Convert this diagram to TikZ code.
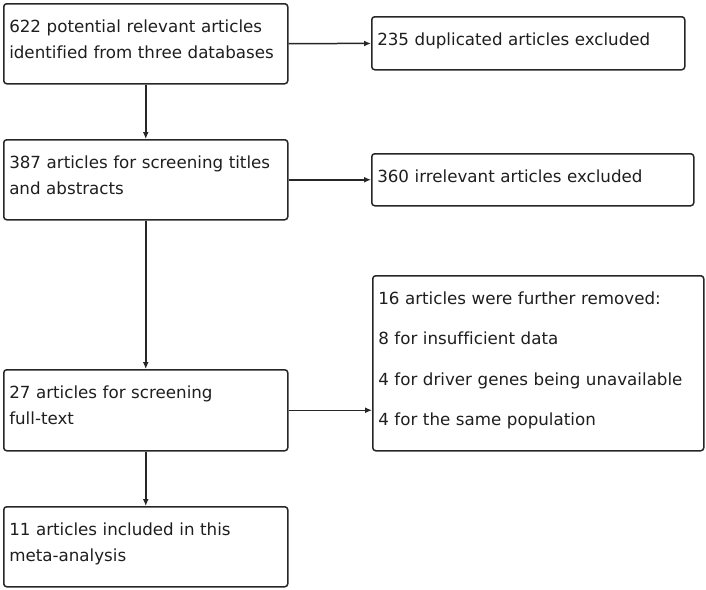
\documentclass[tikz,border=0pt]{standalone}
\usepackage{fontspec}
\setmainfont[Ligatures=NoCommon]{DejaVu Sans}
\usepackage{tikz}
\usetikzlibrary{positioning,
        arrows.meta}
\definecolor{linegray}{HTML}{262626}
\definecolor{textgray}{HTML}{1E1E1E}

\begin{document}
\begin{tikzpicture}[x=1pt,y=-1pt,
        flowbox/.style={draw=linegray,line width=1.5pt,rounded corners=3pt,anchor=north west,
            inner xsep=5.5pt,inner ysep=0pt,align=left,text=textgray,text height=28.5pt,
            font=\fontsize{16.7}{26.7}\selectfont},
        flowarrow/.style={-{Latex[length=7pt,width=6pt]},draw=linegray,line width=1.5pt}]
            \useasboundingbox (0,0) rectangle (706,589);
            \node [flowbox,text width=273pt,text depth=51.5pt] (found) at (3,3) {622 potential relevant articles\\identified from three databases};
            \node [flowbox,text width=302pt,text depth=24.5pt] (dup) at (371,16) {235 duplicated articles excluded};
            \node [flowbox,text width=273pt,text depth=51.5pt] (screen) at (3,139) {387 articles for screening titles\\and abstracts};
            \node [flowbox,text width=311pt,text depth=23.5pt] (irrel) at (371,153) {360 irrelevant articles excluded};
            \node [flowbox,text width=320pt,text depth=146.5pt,font=\fontsize{16.7}{40.5}\selectfont] (removed) at (372,275) {16 articles were further removed:\\8 for insufficient data\\4 for driver genes being unavailable\\4 for the same population};
            \node [flowbox,text width=273pt,text depth=52.5pt] (full) at (3,369) {27 articles for screening\\full-text};
            \node [flowbox,text width=273pt,text depth=51.5pt] (incl) at (3,506) {11 articles included in this\\meta-analysis};

            \draw [flowarrow] (found) -- (dup);
            \draw [flowarrow] (found) -- (screen);
            \draw [flowarrow] (screen.east) -- (irrel.west);
            \draw [flowarrow] (screen) -- (full);
            \draw [flowarrow] (full.east) -- (full.east -| removed.west);
            \draw [flowarrow] (full) -- (incl);
        \end{tikzpicture}
\end{document}
